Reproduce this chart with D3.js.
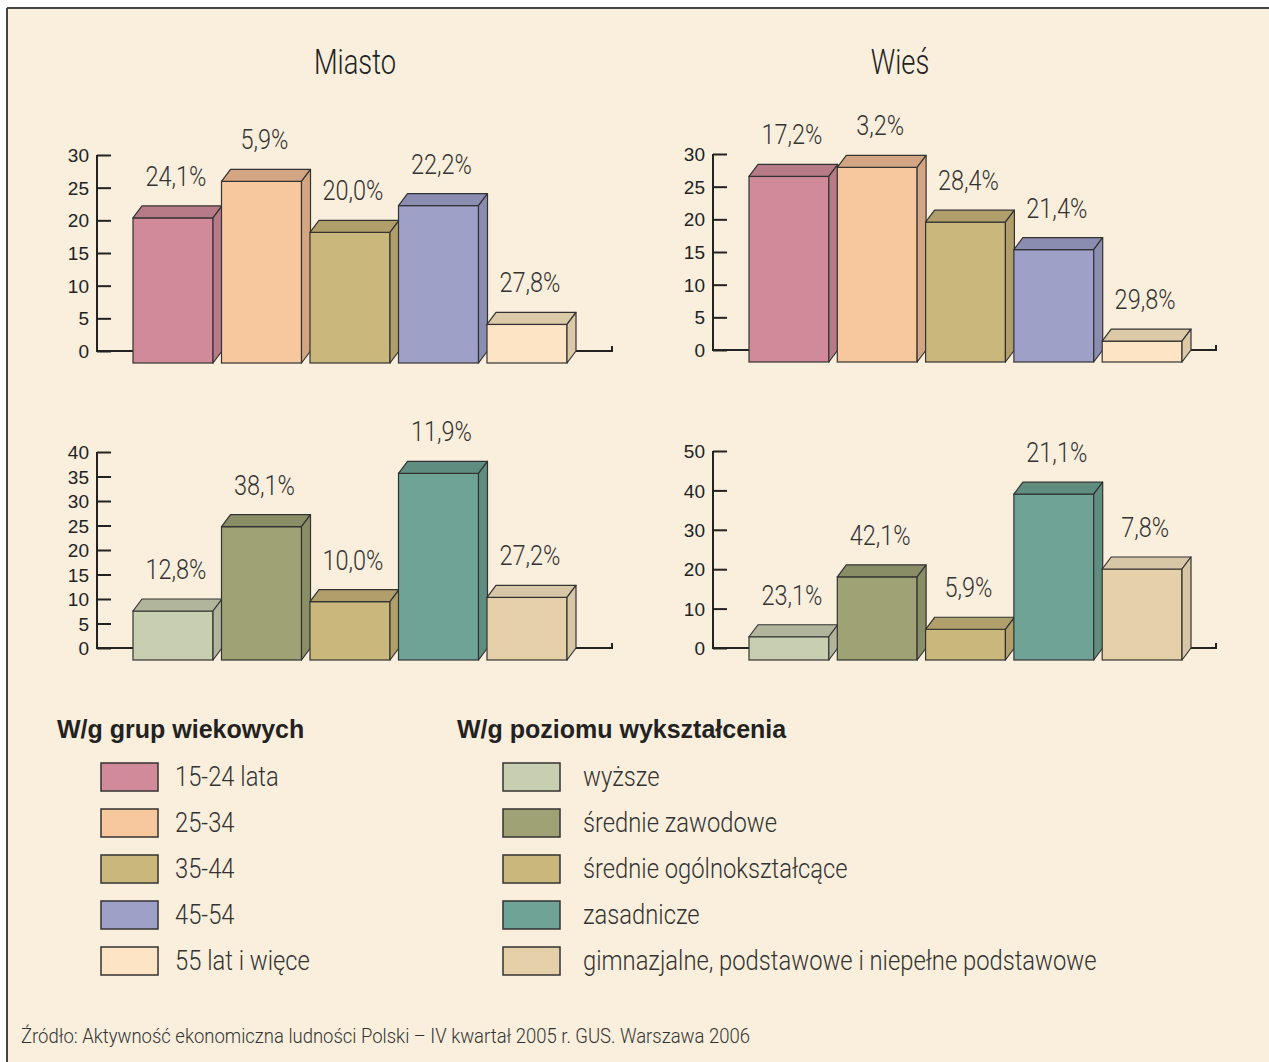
<!DOCTYPE html>
<html>
<head>
<meta charset="utf-8">
<title>Miasto / Wieś</title>
<script src="https://d3js.org/d3.v7.min.js"></script>
<style>
  body { margin: 0; background: #fff; }
  svg { display: block; }
  .cond { font-family: Roboto, "Liberation Sans", sans-serif; font-weight: 300; }
</style>
</head>
<body>
<div id="chart"></div>
<script>
// bar heights (value on the axis)
const miastoAgeValues = [22.2, 27.8, 20.0, 24.1, 5.9];
const wiesAgeValues   = [28.4, 29.8, 21.4, 17.2, 3.2];
const miastoEduValues = [10.0, 27.2, 11.9, 38.1, 12.8];
const wiesEduValues   = [5.9, 21.1, 7.8, 42.1, 23.1];

// percentage labels as printed above each bar
const miastoAgeLabels = ["24,1%", "5,9%", "20,0%", "22,2%", "27,8%"];
const wiesAgeLabels   = ["17,2%", "3,2%", "28,4%", "21,4%", "29,8%"];
const miastoEduLabels = ["12,8%", "38,1%", "10,0%", "11,9%", "27,2%"];
const wiesEduLabels   = ["23,1%", "42,1%", "5,9%", "21,1%", "7,8%"];

const ageGroups = ["15-24 lata", "25-34", "35-44", "45-54", "55 lat i więce"];
const eduLevels = ["wyższe", "średnie zawodowe", "średnie ogólnokształcące", "zasadnicze",
                   "gimnazjalne, podstawowe i niepełne podstawowe"];

const ageColors     = ["#d08a9a", "#f7c79e", "#c9b77b", "#9ea0c8", "#fde4c4"];
const ageSideColors = ["#b77a87", "#d4a583", "#b09f6b", "#8a8cb0", "#dcc9a8"];
const eduColors     = ["#c8cfb0", "#9ea274", "#c9b77b", "#6ea396", "#e5d0a9"];
const eduSideColors = ["#b0b59c", "#8a8e66", "#b09f6b", "#5f8e81", "#d8c7a7"];

const titles = ["Miasto", "Wieś"];
const ageTicks = [0, 5, 10, 15, 20, 25, 30];
const miastoEduTicks = [0, 5, 10, 15, 20, 25, 30, 35, 40];
const wiesEduTicks = [0, 10, 20, 30, 40, 50];

const source = "Źródło: Aktywność ekonomiczna ludności Polski – IV kwartał 2005 r. GUS. Warszawa 2006";

const width = 1269, height = 1062;
const svg = d3.select("#chart").append("svg")
    .attr("width", width).attr("height", height);

// background + frame
svg.append("rect").attr("x", 7).attr("y", 8).attr("width", width).attr("height", height)
    .attr("fill", "#f9efdc");
svg.append("line").attr("x1", 7).attr("x2", width).attr("y1", 8).attr("y2", 8)
    .attr("stroke", "#444").attr("stroke-width", 2);
svg.append("line").attr("x1", 7).attr("x2", 7).attr("y1", 8).attr("y2", height)
    .attr("stroke", "#444").attr("stroke-width", 2);

const DX = 9, DY = 12; // depth of the 3d bars
const SQ = 0.87;       // horizontal squeeze for the bar labels

function drawPanel(p) {
    const g = svg.append("g");
    const y = d3.scaleLinear().domain([0, p.max]).range([p.y0, p.y1]);
    const x = d3.scaleBand().domain(d3.range(p.values.length))
        .range([p.barStart, p.barEnd]).paddingInner(0.096);
    const bw = x.bandwidth();

    // y axis: ticks pointing inward (to the right)
    const axis = d3.axisRight(y).tickValues(p.ticks).tickSize(14).tickFormat(d3.format("d"));
    const ax = g.append("g").attr("transform", `translate(${p.axisX},0)`).call(axis);
    ax.select(".domain").remove();
    ax.selectAll(".tick line").attr("stroke", "#222").attr("stroke-width", 2);
    ax.selectAll(".tick text").attr("x", -8).attr("text-anchor", "end")
        .attr("font-family", "Liberation Sans, Arial, sans-serif")
        .attr("font-size", 19).attr("fill", "#222").attr("dy", "0.35em");
    g.append("line").attr("x1", p.axisX).attr("x2", p.axisX)
        .attr("y1", y(p.max)).attr("y2", y(0) + 1)
        .attr("stroke", "#222").attr("stroke-width", 2);
    // floor line with a little end tick
    g.append("path")
        .attr("d", `M${p.axisX},${y(0)}H${p.lineEnd}V${y(0) - 5}`)
        .attr("fill", "none").attr("stroke", "#222").attr("stroke-width", 2);

    const bars = g.selectAll(".bar").data(p.values).enter().append("g").attr("class", "bar");
    bars.append("rect")
        .attr("x", (d, i) => x(i)).attr("y", d => y(d) + DY)
        .attr("width", bw).attr("height", d => y(0) - y(d))
        .attr("fill", (d, i) => p.colors[i])
        .attr("stroke", "#333").attr("stroke-width", 1.2);
    bars.append("path")
        .attr("d", (d, i) => {
            const x0 = x(i), t = y(d) + DY;
            return `M${x0},${t}L${x0 + DX},${t - DY}H${x0 + bw + DX}L${x0 + bw},${t}Z`;
        })
        .attr("fill", (d, i) => p.sideColors[i])
        .attr("stroke", "#333").attr("stroke-width", 1.2).attr("stroke-linejoin", "round");
    bars.append("path")
        .attr("d", (d, i) => {
            const x1 = x(i) + bw, t = y(d) + DY, b = y(0) + DY;
            return `M${x1},${t}L${x1 + DX},${t - DY}V${b - DY}L${x1},${b}Z`;
        })
        .attr("fill", (d, i) => p.sideColors[i])
        .attr("stroke", "#333").attr("stroke-width", 1.2).attr("stroke-linejoin", "round");

    g.selectAll(".lbl").data(p.values).enter().append("text")
        .attr("class", "lbl cond")
        .attr("transform", (d, i) => `translate(${x(i) + bw / 2 + 3},${y(d) - 20}) scale(${SQ},1)`)
        .attr("text-anchor", "middle")
        .attr("font-size", 27).attr("fill", "#333")
        .text((d, i) => p.labels[i]);
}

drawPanel({ values: miastoAgeValues, labels: miastoAgeLabels, colors: ageColors, sideColors: ageSideColors,
    max: 30, ticks: ageTicks, y0: 351, y1: 155, axisX: 97, barStart: 133, barEnd: 567, lineEnd: 612 });
drawPanel({ values: wiesAgeValues, labels: wiesAgeLabels, colors: ageColors, sideColors: ageSideColors,
    max: 30, ticks: ageTicks, y0: 350, y1: 154, axisX: 713, barStart: 749, barEnd: 1182, lineEnd: 1216 });
drawPanel({ values: miastoEduValues, labels: miastoEduLabels, colors: eduColors, sideColors: eduSideColors,
    max: 40, ticks: miastoEduTicks, y0: 648, y1: 452, axisX: 97, barStart: 133, barEnd: 567, lineEnd: 612 });
drawPanel({ values: wiesEduValues, labels: wiesEduLabels, colors: eduColors, sideColors: eduSideColors,
    max: 50, ticks: wiesEduTicks, y0: 648, y1: 451, axisX: 713, barStart: 749, barEnd: 1182, lineEnd: 1216 });

// panel titles
svg.selectAll(".title").data(titles).enter().append("text")
    .attr("class", "title cond")
    .attr("transform", (d, i) => `translate(${[355, 900][i]},74) scale(0.78,1)`)
    .attr("text-anchor", "middle")
    .attr("font-size", 35).attr("fill", "#222").attr("font-weight", 400)
    .text(d => d);

// legends
function drawLegend(title, items, colors, tx, sx, txt) {
    const g = svg.append("g");
    g.append("text").attr("x", tx).attr("y", 738)
        .attr("font-family", "Liberation Sans, Arial, sans-serif")
        .attr("font-weight", "bold").attr("font-size", 25).attr("fill", "#222")
        .text(title);
    const row = g.selectAll(".item").data(items).enter().append("g")
        .attr("transform", (d, i) => `translate(0,${763 + i * 46})`);
    row.append("rect").attr("x", sx).attr("y", 0).attr("width", 57).attr("height", 28)
        .attr("fill", (d, i) => colors[i]).attr("stroke", "#333").attr("stroke-width", 1.5);
    row.append("text").attr("class", "cond")
        .attr("transform", `translate(${txt},23) scale(0.88,1)`)
        .attr("font-size", 27).attr("fill", "#333")
        .text(d => d);
}
drawLegend("W/g grup wiekowych", ageGroups, ageColors, 57, 101, 175);
drawLegend("W/g poziomu wykształcenia", eduLevels, eduColors, 457, 503, 583);

svg.append("text").attr("class", "cond")
    .attr("transform", "translate(21,1043) scale(0.88,1)")
    .attr("font-size", 21).attr("fill", "#333")
    .text(source);
</script>
</body>
</html>
